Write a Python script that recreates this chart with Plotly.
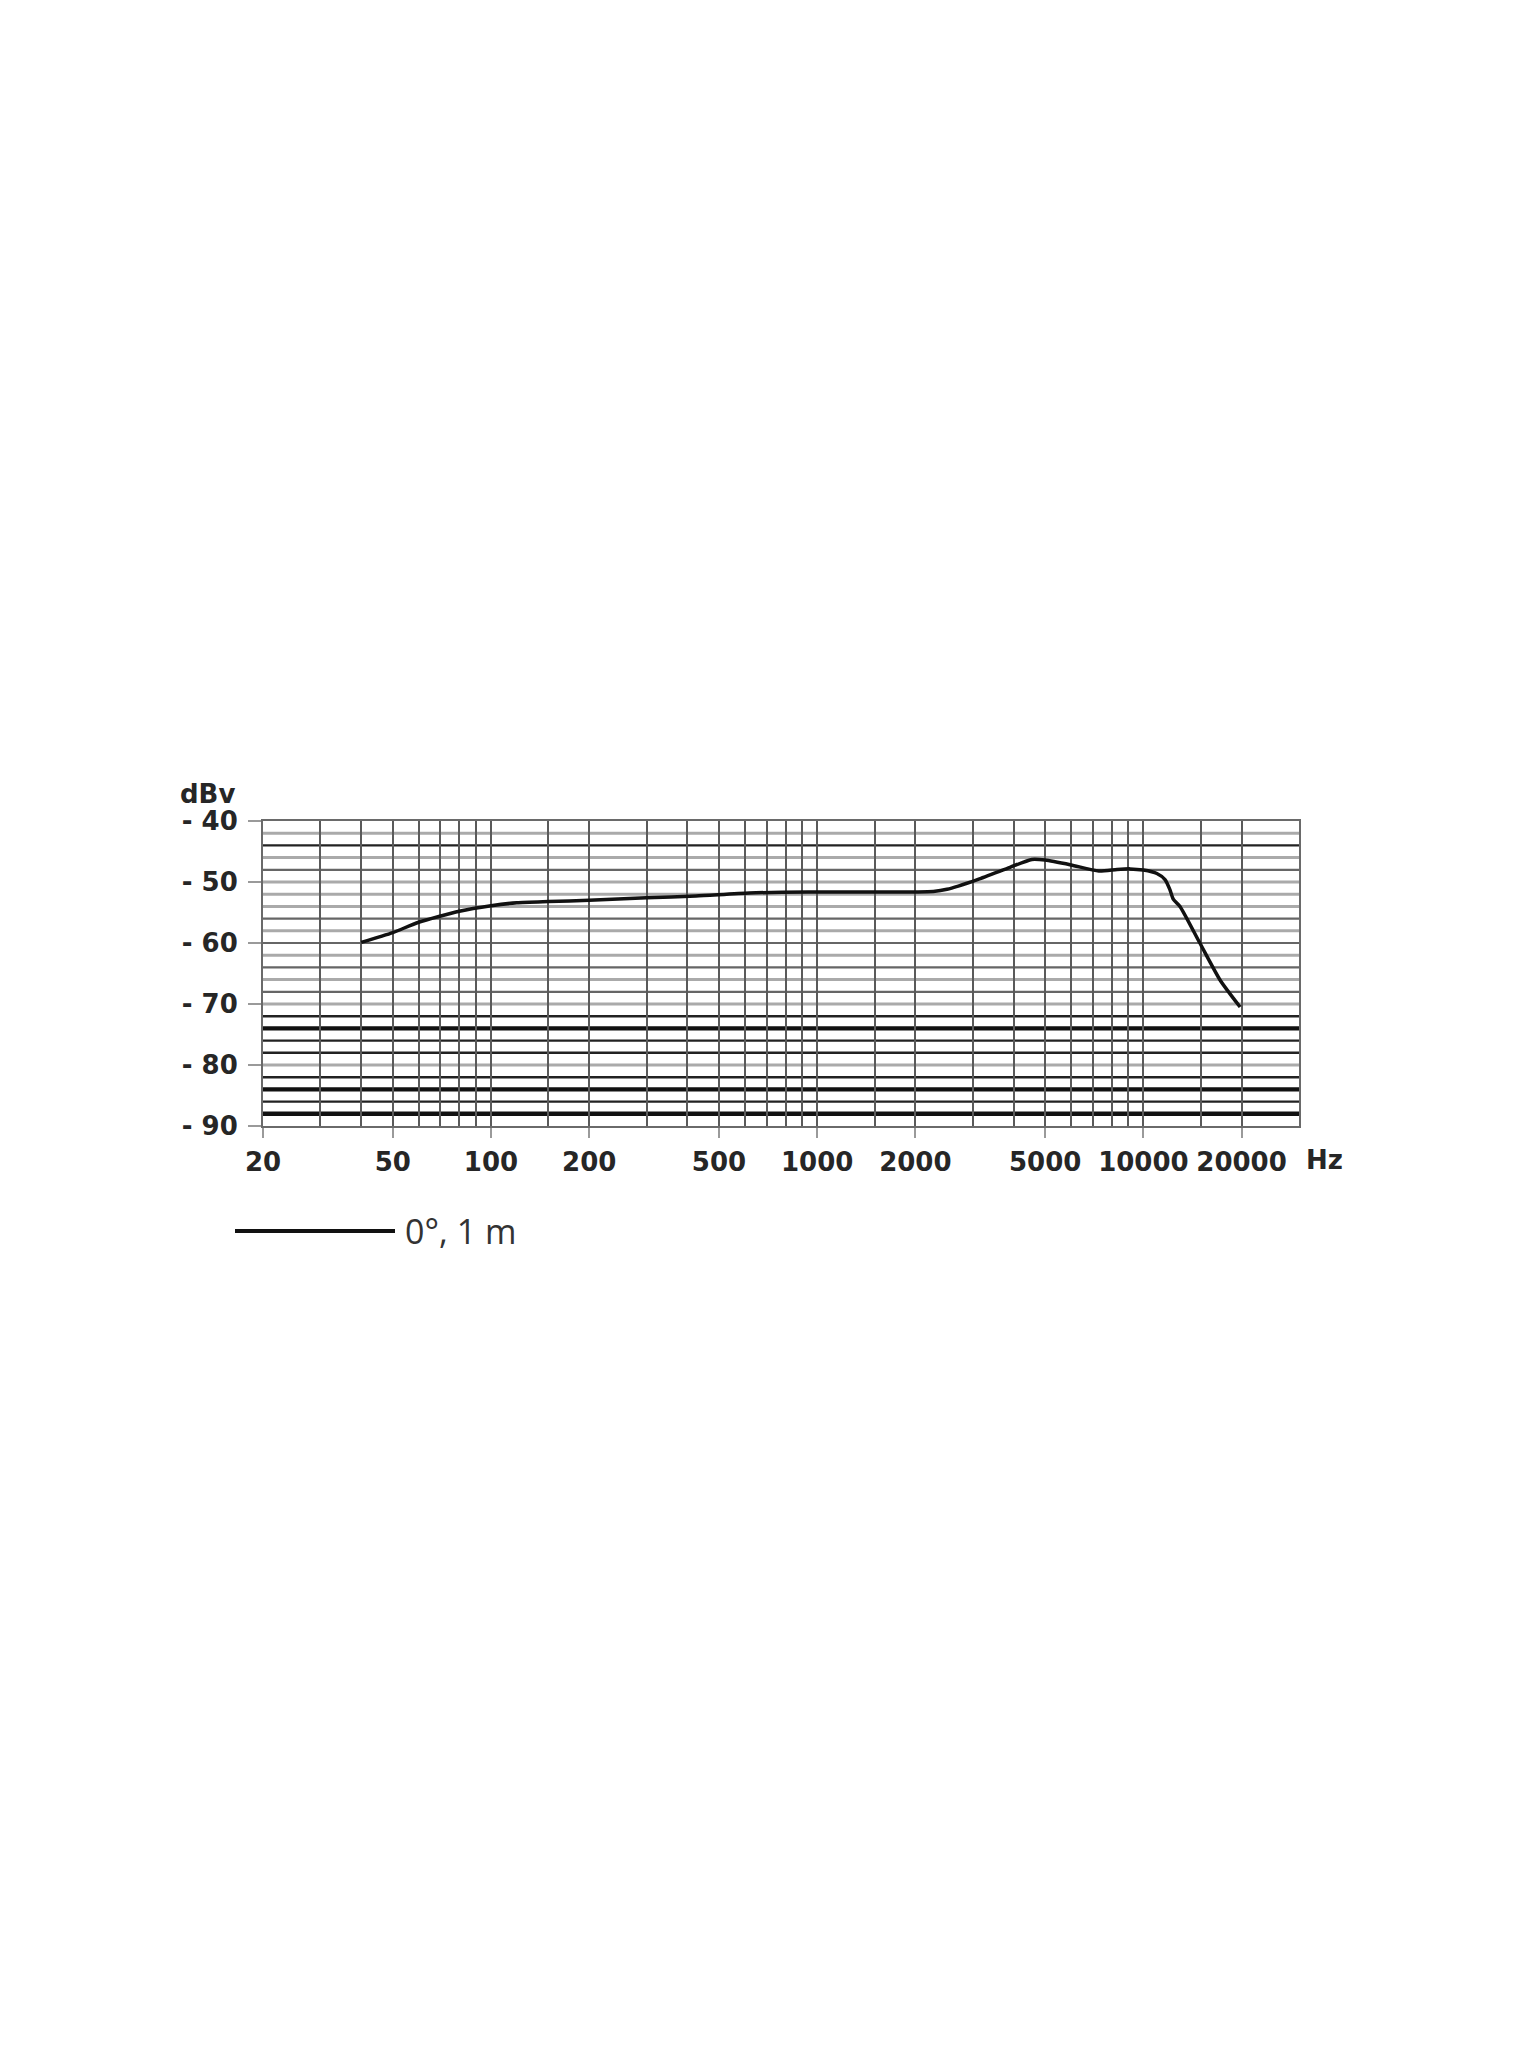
import plotly.graph_objects as go

# ---- data ----
freq_hz = [40, 50, 60, 80, 100, 120, 150, 200, 300, 425, 620, 940, 1500, 2270, 2500,
           3100, 3900, 4550, 5000, 6000, 7300, 8300, 9100, 10000, 11000, 11650, 12050,
           12350, 12950, 14900, 17200, 19800]
level_dbv = [-59.9, -58.3, -56.6, -54.8, -53.9, -53.4, -53.2, -53.0, -52.6, -52.3, -51.8,
             -51.65, -51.65, -51.55, -51.2, -49.6, -47.6, -46.3, -46.4, -47.2, -48.2, -47.95,
             -47.85, -48.05, -48.6, -49.6, -51.2, -52.8, -54.0, -60.0, -66.1, -70.5]
series_name = "0°, 1 m"

x_tick_vals = [20, 50, 100, 200, 500, 1000, 2000, 5000, 10000, 20000]
x_tick_text = ["20", "50", "100", "200", "500", "1000", "2000", "5000", "10000", "20000"]
x_minor_vals = [30, 40, 60, 70, 80, 90, 150, 300, 400, 600, 700, 800, 900, 1500,
                3000, 4000, 6000, 7000, 8000, 9000, 15000, 30000]
y_tick_vals = [-40, -50, -60, -70, -80, -90]
y_tick_text = ["- 40", "- 50", "- 60", "- 70", "- 80", "- 90"]

# horizontal grid levels (2 dB spacing) grouped by drawing style
grid_light = [-42, -46, -50, -52, -54, -58, -62, -66, -70, -80]
grid_mid = [-48, -56, -60, -64, -68]
grid_dark = [-44, -72, -76, -78, -82, -86]
grid_thick = [-74, -84, -88]

LABEL_FONT = dict(family="DejaVu Sans", size=26, color="#262626")

fig = go.Figure()
fig.add_trace(go.Scatter(
    x=freq_hz, y=level_dbv, mode="lines", name=series_name,
    line=dict(color="#111111", width=3.5, shape="spline", smoothing=0.6),
    showlegend=False,
))

shapes = []
for levels, color, width in [(grid_light, "#aaaaaa", 3),
                             (grid_mid, "#666666", 2.2),
                             (grid_dark, "#222222", 2.4),
                             (grid_thick, "#111111", 4.4)]:
    for lv in levels:
        shapes.append(dict(type="line", xref="paper", yref="y", x0=0, x1=1, y0=lv, y1=lv,
                           line=dict(color=color, width=width), layer="between"))

# legend sample line
shapes.append(dict(type="line", xref="paper", yref="paper",
                   x0=(235 - 263) / 1036, x1=(395 - 263) / 1036,
                   y0=-(1231 - 1126) / 305, y1=-(1231 - 1126) / 305,
                   line=dict(color="#111111", width=4)))

annotations = [
    dict(text="<b>dBv</b>", xref="paper", yref="paper", x=(237 - 263) / 1036, y=1 + (821 - 794) / 305,
         xanchor="right", yanchor="middle", showarrow=False, font=LABEL_FONT),
    dict(text="<b>Hz</b>", xref="paper", yref="paper", x=(1324 - 263) / 1036, y=-(1160 - 1126) / 305,
         xanchor="center", yanchor="middle", showarrow=False, font=LABEL_FONT),
    dict(text=series_name, xref="paper", yref="paper", x=(403 - 263) / 1036, y=-(1231 - 1126) / 305,
         xanchor="left", yanchor="middle", showarrow=False,
         font=dict(family="Open Sans", size=34, color="#333333")),
]

fig.update_layout(
    width=1536, height=2048,
    margin=dict(l=263, r=237, t=821, b=922, pad=0),
    paper_bgcolor="white", plot_bgcolor="white",
    shapes=shapes, annotations=annotations,
    showlegend=False,
)
fig.update_xaxes(
    type="log", range=[1.30103, 4.47712],
    tickmode="array", tickvals=x_tick_vals, ticktext=["<b>" + t + "</b>" for t in x_tick_text],
    ticks="outside", ticklen=10, tickwidth=2, tickcolor="#9a9a9a",
    tickfont=LABEL_FONT,
    ticklabelstandoff=2,
    showgrid=True, gridcolor="#5a5a5a", gridwidth=2,
    minor=dict(tickmode="array", tickvals=x_minor_vals, showgrid=True,
               gridcolor="#5a5a5a", gridwidth=2, ticks=""),
    showline=True, linecolor="#6a6a6a", linewidth=2, mirror=True,
    zeroline=False,
)
fig.update_yaxes(
    range=[-90, -40],
    tickmode="array", tickvals=y_tick_vals, ticktext=["<b>" + t + "</b>" for t in y_tick_text],
    ticks="outside", ticklen=13, tickwidth=2, tickcolor="#9a9a9a",
    tickfont=LABEL_FONT,
    ticklabelstandoff=5,
    showgrid=False,
    showline=True, linecolor="#6a6a6a", linewidth=2, mirror=True,
    zeroline=False,
)

fig.write_html("out.html")
